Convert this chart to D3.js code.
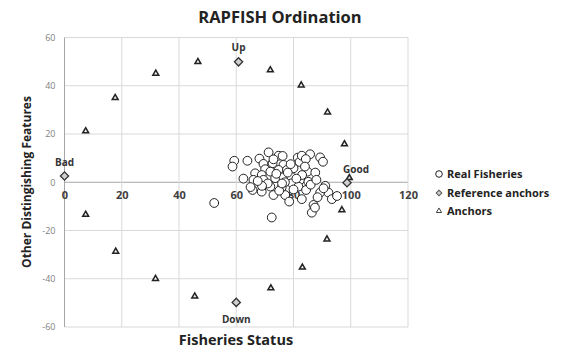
<!DOCTYPE html>
<html><head><meta charset="utf-8">
<script src="https://cdn.jsdelivr.net/npm/d3@7"></script>
<style>body{margin:0;background:#fff}svg{display:block}</style>
</head><body>
<svg id="c" width="561" height="358"></svg>
<script>
const xTicks = [0,20,40,60,80,100,120];
const yTicks = [-60,-40,-20,0,20,40,60];

const fishX = [59.3,58.7,63.9,68.1,71.3,74.8,69.5,72.7,76.2,76.5,81.5,82.1,82.9,85.8,84.3,89.3,90.3,
  70.1,71.9,74.8,77.7,80,84.9,87.6,66.6,68.9,66,69.5,73.6,76.5,79.2,82.3,85.2,65.7,68.9,71.9,75.9,79.4,
  81.7,84.4,73,77.1,82.9,87,86.4,89.3,91.1,92.2,93.4,95.2,88.4,72.4,52.3,
  74,77,80,78,71,83,86,75,79,73,81,69,76,84,88,62.5,65,67.5,78.5,90.5,87.5];
const fishY = [8.9,6.5,8.9,9.8,12.4,11,7.6,7.9,10.9,7.2,10.2,8.4,11,11.6,9.6,10.3,8.5,
  5.4,4.4,5.1,5.1,5.8,4.4,4,3.7,3,1,1,1.7,2.1,2.3,0.9,0.2,-3.2,-3.9,-1.8,-2.1,-0.4,
  -1.8,-3.2,-5.3,-5.3,-7,-9.4,-12.6,-4.3,-1.5,-4.3,-7,-5.7,-6.2,-14.6,-8.6,
  3.5,0,-3,4,-0.5,3,-1,-3.5,7.5,9.5,1.5,-1.5,-0.5,6.5,1,1.5,-2,0.5,-8,-2.5,-10.5];

const refNames = ["Good","Bad","Up","Down"];
const refX = [98.7,0,60.8,60];
const refY = [-0.2,2.6,49.9,-49.8];

const anchorX = [7.4,17.7,31.9,46.6,71.9,82.7,91.9,97.8,99.5,96.9,91.7,83.1,72.1,45.5,31.8,17.9,7.4];
const anchorY = [21.2,35,45.1,49.9,46.5,40.2,29,15.8,1.8,-11.5,-23.6,-35.3,-43.9,-47.3,-40,-28.7,-13.4];

const legendLabels = ["Real Fisheries","Reference anchors","Anchors"];

const svg = d3.select("#c");
const x = d3.scaleLinear().domain([0,120]).range([64.5,408]);
const y = d3.scaleLinear().domain([-60,60]).range([327,37.5]);

// grid
svg.append("g").selectAll("line").data(yTicks).join("line")
  .attr("x1",x(0)).attr("x2",x(120)).attr("y1",d=>y(d)).attr("y2",d=>y(d))
  .attr("stroke",d=>d===0?"#a6a6a6":"#d9d9d9").attr("stroke-width",1);
svg.append("g").selectAll("line").data(xTicks).join("line")
  .attr("y1",y(60)).attr("y2",y(-60)).attr("x1",d=>x(d)).attr("x2",d=>x(d))
  .attr("stroke",d=>d===0?"#a6a6a6":"#d9d9d9").attr("stroke-width",1);

// axes
const gx = svg.append("g").attr("transform",`translate(0,${y(0)})`)
  .call(d3.axisBottom(x).tickValues(xTicks).tickSize(0).tickPadding(9).tickFormat(d=>String(d)));
gx.select(".domain").remove();
gx.selectAll("text").attr("font-family","Open Sans, sans-serif").attr("font-size",11)
  .attr("font-weight","bold").attr("fill","#404040");

const gy = svg.append("g").attr("transform",`translate(${x(0)},0)`)
  .call(d3.axisLeft(y).tickValues(yTicks).tickSize(0).tickPadding(9).tickFormat(d=>String(d)));
gy.select(".domain").remove();
gy.selectAll("text").attr("font-family","Open Sans, sans-serif").attr("font-size",9)
  .attr("fill","#7f7f7f");

// anchors
const tri = d3.symbol().type(d3.symbolTriangle).size(15);
svg.append("g").selectAll("path").data(anchorX).join("path")
  .attr("d",tri).attr("transform",(d,i)=>`translate(${x(d)},${y(anchorY[i])})`)
  .attr("fill","#eee").attr("stroke","#222").attr("stroke-width",1.5);

// fisheries
svg.append("g").selectAll("circle").data(fishX).join("circle")
  .attr("cx",d=>x(d)).attr("cy",(d,i)=>y(fishY[i])).attr("r",4.4)
  .attr("fill","#fff").attr("stroke","#222").attr("stroke-width",1);

// reference anchors
const dia = d3.symbol().type(d3.symbolSquare).size(34);
svg.append("g").selectAll("path").data(refX).join("path")
  .attr("d",dia).attr("transform",(d,i)=>`translate(${x(d)},${y(refY[i])}) rotate(45)`)
  .attr("fill","#d0d0d0").attr("stroke","#333").attr("stroke-width",1.3);

const lblOff = {Good:[9,-10],Bad:[0,-10],Up:[0,-11],Down:[0,21]};
svg.append("g").selectAll("text").data(refNames).join("text")
  .attr("x",(d,i)=>x(refX[i])+lblOff[d][0]).attr("y",(d,i)=>y(refY[i])+lblOff[d][1])
  .attr("text-anchor","middle").attr("font-family","Open Sans, sans-serif")
  .attr("font-size",10).attr("font-weight","bold").attr("fill","#333").text(d=>d);

// title & axis labels
svg.append("text").attr("x",280).attr("y",23).attr("text-anchor","middle")
  .attr("font-family","Open Sans, sans-serif").attr("font-size",16.5).attr("font-weight","bold")
  .attr("fill","#222").text("RAPFISH Ordination");
svg.append("text").attr("x",236).attr("y",345).attr("text-anchor","middle")
  .attr("font-family","Open Sans, sans-serif").attr("font-size",14.5).attr("font-weight","bold")
  .attr("fill","#222").text("Fisheries Status");
svg.append("text").attr("transform",`translate(31,182) rotate(-90)`).attr("text-anchor","middle")
  .attr("font-family","Open Sans, sans-serif").attr("font-size",12).attr("font-weight","bold")
  .attr("fill","#222").text("Other Distingishing Features");

// legend
const lg = svg.append("g");
const ly = [174,193,211];
lg.append("circle").attr("cx",439).attr("cy",ly[0]).attr("r",3.3).attr("fill","#fff").attr("stroke","#222");
lg.append("path").attr("d",d3.symbol().type(d3.symbolSquare).size(16))
  .attr("transform",`translate(439,${ly[1]}) rotate(45)`).attr("fill","#d0d0d0").attr("stroke","#555");
lg.append("path").attr("d",d3.symbol().type(d3.symbolTriangle).size(12))
  .attr("transform",`translate(439,${ly[2]})`).attr("fill","#fff").attr("stroke","#444");
lg.selectAll("text").data(legendLabels).join("text")
  .attr("x",447).attr("y",(d,i)=>ly[i]+4).attr("font-family","Open Sans, sans-serif")
  .attr("font-size",11).attr("font-weight","bold").attr("fill","#222").text(d=>d);
</script>
</body></html>
